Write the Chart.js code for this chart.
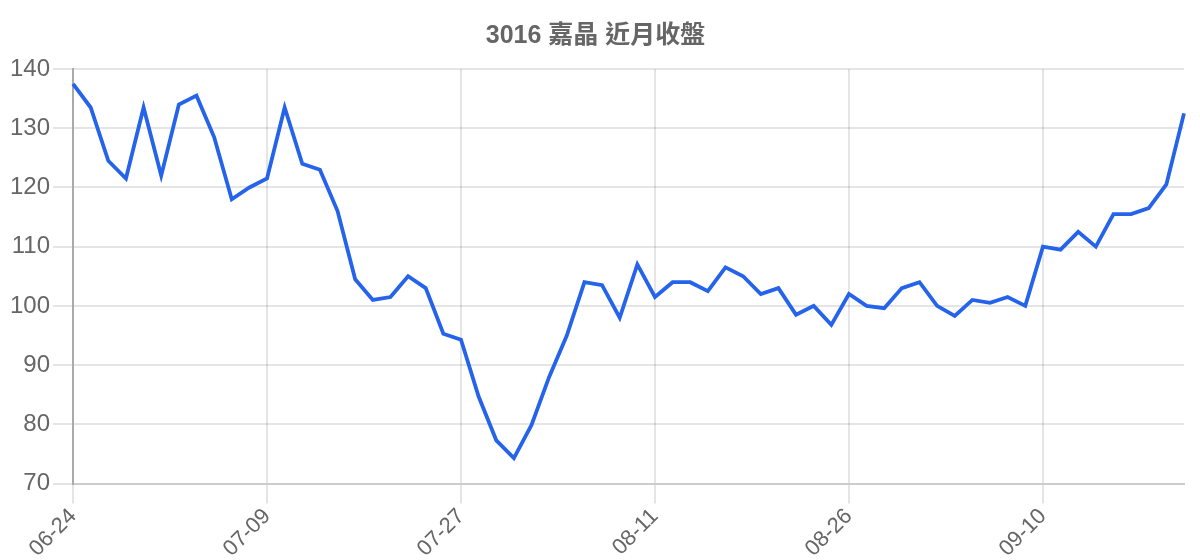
<!DOCTYPE html>
<html>
<head>
<meta charset="utf-8">
<script src="https://cdn.jsdelivr.net/npm/chart.js@4/dist/chart.umd.min.js"></script>
<style>
  html, body { margin: 0; padding: 0; background: #fff; }
  #wrap { position: relative; width: 1200px; height: 560px; }
</style>
</head>
<body>
<div id="wrap"><canvas id="chart"></canvas></div>
<script>
const dates = [
  '06-24','06-25','06-26','06-27','06-28','07-01','07-02','07-03','07-04','07-05','07-08',
  '07-09','07-10','07-11','07-12','07-15','07-16','07-17','07-18','07-19','07-22','07-23',
  '07-27','07-29','07-30','07-31','08-01','08-02','08-05','08-06','08-07','08-08','08-09',
  '08-11','08-12','08-13','08-14','08-15','08-16','08-19','08-20','08-21','08-22','08-23',
  '08-26','08-27','08-28','08-29','08-30','09-02','09-03','09-04','09-05','09-06','09-09',
  '09-10','09-11','09-12','09-13','09-16','09-18','09-19','09-20','09-23'
];

const closes = [
  137.5, 133.5, 124.5, 121.5, 133.5, 122, 134, 135.5, 128.5, 118, 120,
  121.5, 133.5, 124, 123, 116, 104.5, 101, 101.5, 105, 103, 95.3,
  94.3, 84.7, 77.3, 74.3, 79.9, 88, 95, 104, 103.5, 98, 107,
  101.5, 104, 104, 102.5, 106.5, 105, 102, 103, 98.5, 100, 96.8,
  102, 100, 99.6, 103, 104, 100, 98.3, 101, 100.5, 101.5, 100,
  110, 109.5, 112.5, 110, 115.5, 115.5, 116.5, 120.5, 132.5
];

const chartTitle = '3016 嘉晶 近月收盤';
const yMin = 70;
const yMax = 140;
const yStep = 10;

const baseFont = "'Liberation Sans', 'Noto Sans CJK TC', sans-serif";

new Chart(document.getElementById('chart'), {
  type: 'line',
  data: {
    labels: dates,
    datasets: [{
      label: '收盤',
      data: closes,
      borderColor: '#2563eb',
      backgroundColor: '#2563eb',
      borderWidth: 3.8,
      pointRadius: 0,
      tension: 0,
      fill: false
    }]
  },
  options: {
    responsive: true,
    maintainAspectRatio: false,
    animation: false,
    layout: { padding: { left: 7, right: 16, top: 8, bottom: -2 } },
    plugins: {
      legend: { display: false },
      tooltip: { enabled: false },
      title: {
        display: true,
        text: chartTitle,
        color: '#666',
        font: { family: baseFont, size: 25, weight: 'bold' },
        padding: { top: 13, bottom: 18 }
      }
    },
    scales: {
      x: {
        grid: { color: 'rgba(0,0,0,0.1)', lineWidth: 2, tickLength: 20 },
        border: { color: '#ccc', width: 2 },
        ticks: {
          color: '#666',
          font: { family: baseFont, size: 22 },
          maxRotation: 45,
          minRotation: 45,
          maxTicksLimit: 6,
          padding: 0
        }
      },
      y: {
        min: yMin,
        max: yMax,
        grid: { color: 'rgba(0,0,0,0.1)', lineWidth: 2, tickLength: 20 },
        border: { color: '#aaa', width: 2 },
        ticks: {
          stepSize: yStep,
          color: '#666',
          font: { family: baseFont, size: 24 },
          padding: 3
        }
      }
    }
  }
});
</script>
</body>
</html>
